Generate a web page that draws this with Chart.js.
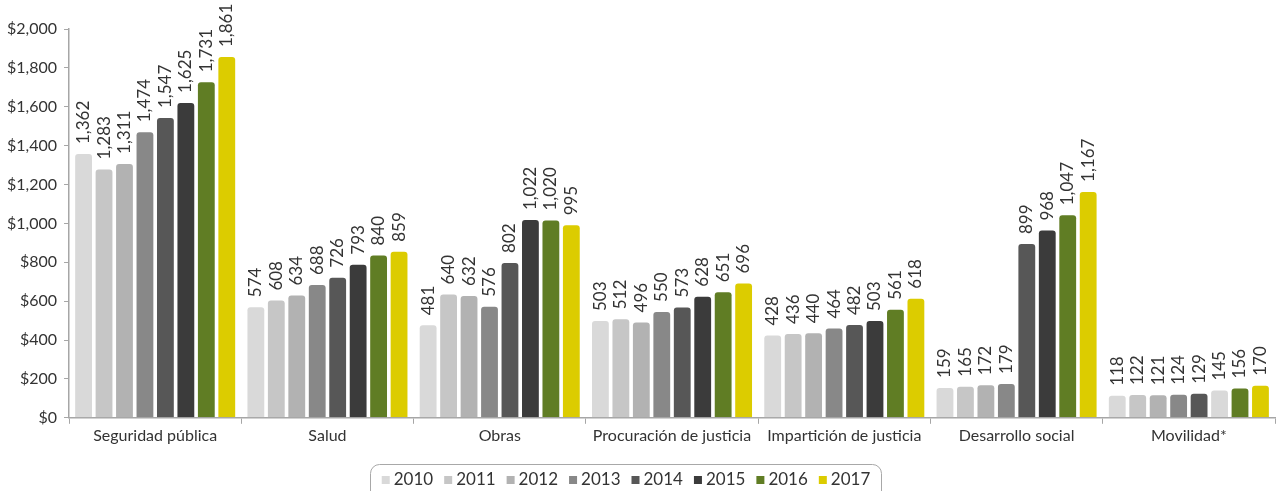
<!DOCTYPE html>
<html lang="es">
<head>
    <meta charset="UTF-8">
    <title>Gasto por función 2010-2017</title>
    <style>
        body {
            margin: 0;
            background: #fff;
        }
        #wrap {
            width: 1277px;
            height: 491px;
        }
    </style>
</head>
<body>
    <div id="wrap">
        <canvas id="gastoChart" width="1277" height="491"></canvas>
    </div>

    <script src="https://cdn.jsdelivr.net/npm/chart.js"></script>
    <script>
        // categorias y años
        const categories = ['Seguridad pública', 'Salud', 'Obras', 'Procuración de justicia', 'Impartición de justicia', 'Desarrollo social', 'Movilidad*'];
        const years = ['2010', '2011', '2012', '2013', '2014', '2015', '2016', '2017'];

        // valores por año (mismo orden que categories)
        const v2010 = [1362, 574, 481, 503, 428, 159, 118];
        const v2011 = [1283, 608, 640, 512, 436, 165, 122];
        const v2012 = [1311, 634, 632, 496, 440, 172, 121];
        const v2013 = [1474, 688, 576, 550, 464, 179, 124];
        const v2014 = [1547, 726, 802, 573, 482, 899, 129];
        const v2015 = [1625, 793, 1022, 628, 503, 968, 145];
        const v2016 = [1731, 840, 1020, 651, 561, 1047, 156];
        const v2017 = [1861, 859, 995, 696, 618, 1167, 170];

        const yTicks = [0, 200, 400, 600, 800, 1000, 1200, 1400, 1600, 1800, 2000];

        const colors = ['#d9d9d9', '#c6c6c6', '#b2b2b2', '#888888', '#575757', '#3b3b3b', '#607d24', '#dccc00'];
        const allValues = [v2010, v2011, v2012, v2013, v2014, v2015, v2016, v2017];

        const fontFam = 'Lato, "Open Sans", sans-serif';

        const datasets = years.map((y, i) => {
            let bg = colors[i];
            // la barra de Movilidad 2015 aparece en gris claro en el original
            if (y === '2015') {
                bg = categories.map(c => c === 'Movilidad*' ? colors[0] : colors[i]);
            }
            return {
                label: y,
                data: allValues[i],
                backgroundColor: bg,
                borderColor: 'rgba(255,255,255,0.5)',
                borderWidth: 1,
                borderRadius: { topLeft: 4, topRight: 4 },
                borderSkipped: 'bottom',
                categoryPercentage: 0.95,
                barPercentage: 0.92
            };
        });

        // etiquetas verticales encima de cada barra
        const valueLabels = {
            id: 'valueLabels',
            afterDatasetsDraw(chart) {
                const ctx = chart.ctx;
                ctx.save();
                ctx.font = '17px ' + fontFam;
                ctx.fillStyle = '#333';
                ctx.textAlign = 'left';
                ctx.textBaseline = 'middle';
                chart.data.datasets.forEach((ds, di) => {
                    chart.getDatasetMeta(di).data.forEach((bar, j) => {
                        ctx.save();
                        ctx.translate(bar.x, bar.y - 9);
                        ctx.rotate(-Math.PI / 2);
                        ctx.fillText(ds.data[j].toLocaleString('en-US'), 0, 0);
                        ctx.restore();
                    });
                });
                ctx.restore();
            }
        };

        // leyenda dibujada a mano dentro de un marco redondeado
        const bottomLegend = {
            id: 'bottomLegend',
            afterDraw(chart) {
                const ctx = chart.ctx;
                ctx.save();
                ctx.font = '17px ' + fontFam;
                const sq = 8, gapTxt = 4, gapItem = 11;
                const widths = years.map(y => ctx.measureText(y).width);
                const total = widths.reduce((a, w) => a + sq + gapTxt + w, 0) + gapItem * (years.length - 1);
                const cx = 626, cy = 480;
                let x = cx - total / 2;

                // marco
                ctx.strokeStyle = '#a8a8a8';
                ctx.lineWidth = 1;
                ctx.beginPath();
                ctx.roundRect(370.5, 464.5, 511, 40, 9);
                ctx.stroke();

                ctx.textBaseline = 'middle';
                ctx.textAlign = 'left';
                years.forEach((y, i) => {
                    ctx.fillStyle = colors[i];
                    ctx.fillRect(x, cy - sq / 2, sq, sq);
                    x += sq + gapTxt;
                    ctx.fillStyle = '#333';
                    ctx.fillText(y, x, cy);
                    x += widths[i] + gapItem;
                });
                ctx.restore();
            }
        };

        new Chart(document.getElementById('gastoChart'), {
            type: 'bar',
            data: {
                labels: categories,
                datasets: datasets
            },
            options: {
                responsive: false,
                animation: false,
                layout: {
                    padding: { top: 29, left: 0, right: 2, bottom: 44 }
                },
                scales: {
                    x: {
                        grid: {
                            display: true,
                            drawOnChartArea: false,
                            offset: true,
                            color: '#a6a6a6',
                            tickLength: 6
                        },
                        border: { color: '#a6a6a6', width: 1.5 },
                        ticks: {
                            color: '#333',
                            font: { family: fontFam, size: 16 },
                            padding: 2
                        }
                    },
                    y: {
                        min: 0,
                        max: 2000,
                        afterBuildTicks(scale) {
                            scale.ticks = yTicks.map(v => ({ value: v }));
                        },
                        grid: {
                            display: true,
                            drawOnChartArea: false,
                            color: '#a6a6a6',
                            tickLength: 5
                        },
                        border: { color: '#a6a6a6', width: 1.5 },
                        ticks: {
                            color: '#333',
                            font: { family: fontFam, size: 16 },
                            padding: 7,
                            callback: v => '$' + Number(v).toLocaleString('en-US')
                        }
                    }
                },
                plugins: {
                    legend: { display: false },
                    tooltip: { enabled: false }
                }
            },
            plugins: [valueLabels, bottomLegend]
        });
    </script>
</body>
</html>
